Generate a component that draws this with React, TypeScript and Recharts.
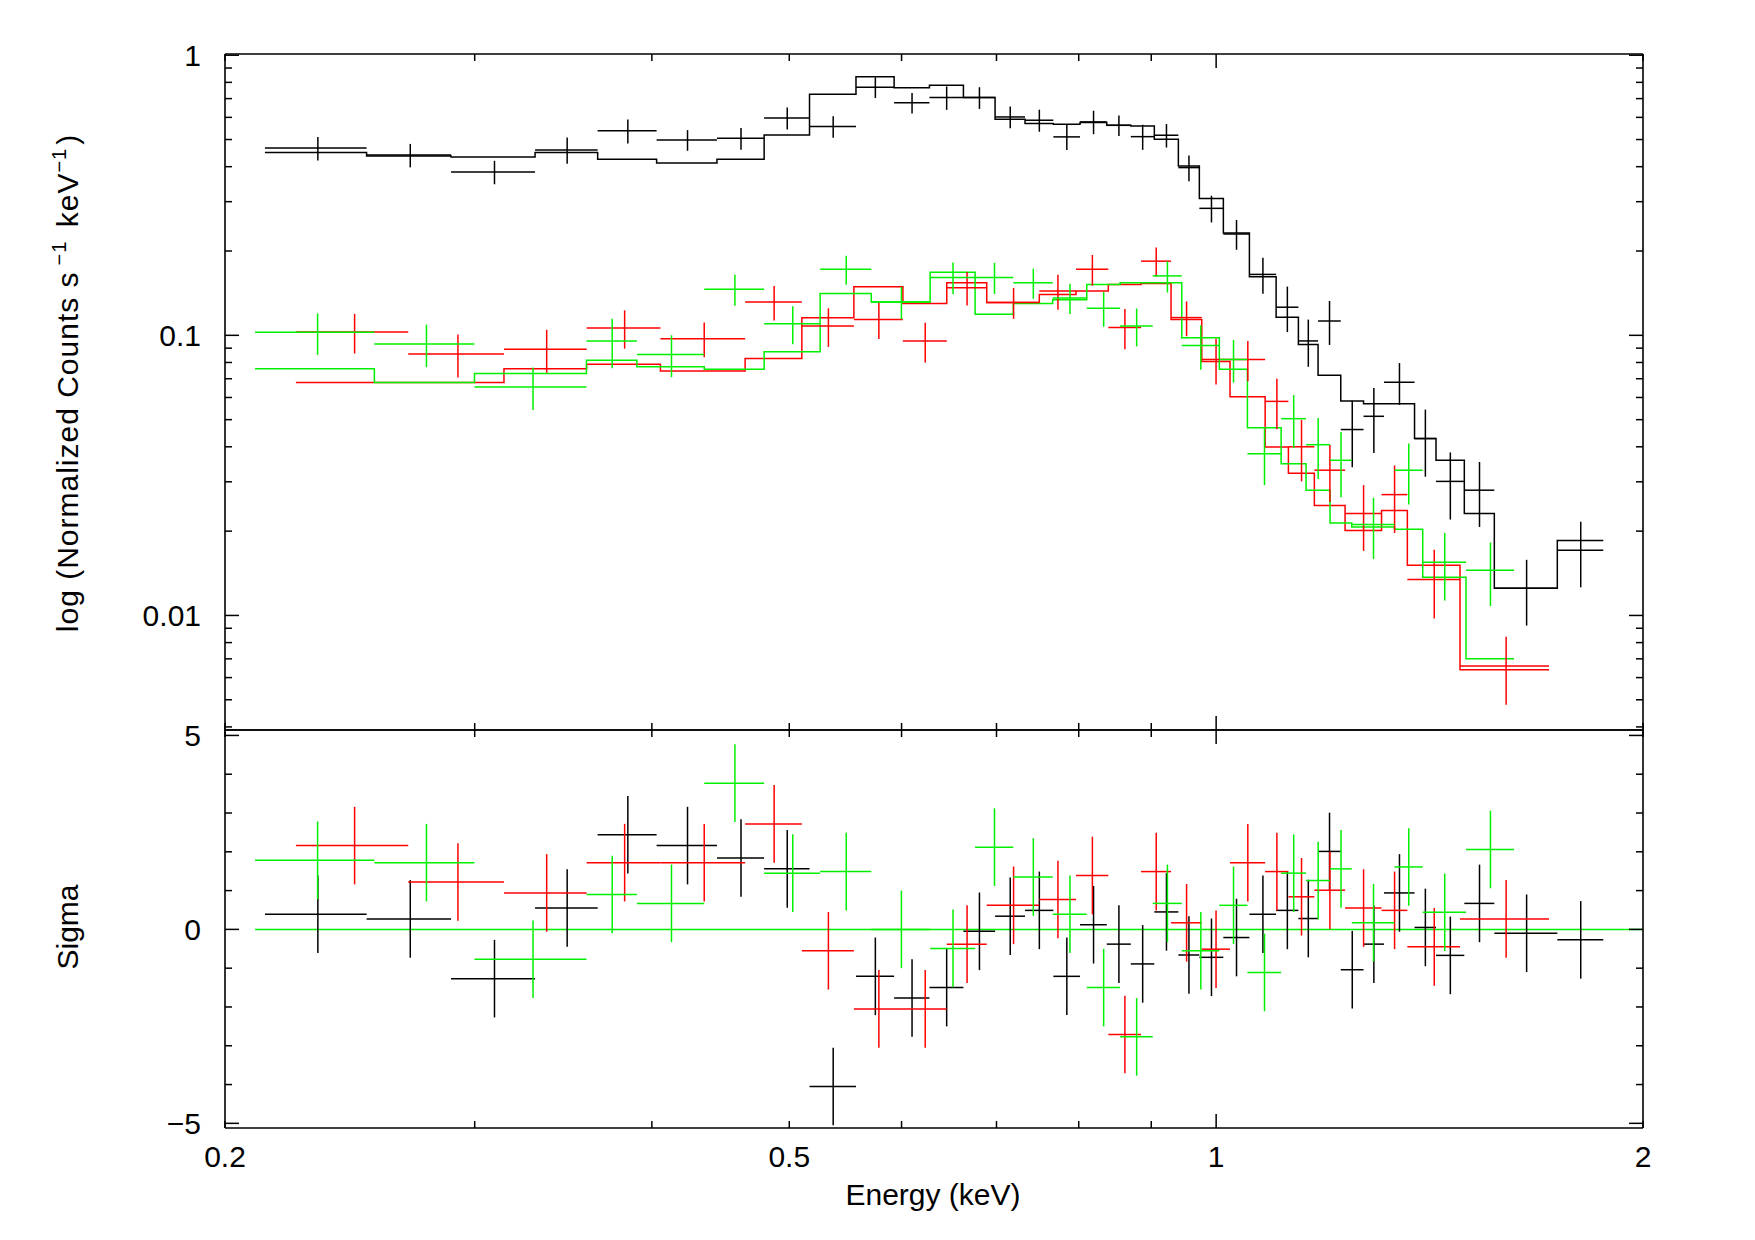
import React from 'react';
import { ComposedChart, ErrorBar, Line, Scatter, XAxis, YAxis } from 'recharts';

// bin edges (keV), rates (counts/s/keV), 1-sigma errors, folded model, delchi
const BLACK_EDGES = [
  0.2134, 0.2517, 0.2887, 0.3309, 0.3663, 0.4031, 0.4446, 0.48, 0.5167, 0.5572, 0.5928, 0.6278,
  0.6634, 0.6984, 0.7332, 0.7677, 0.8017, 0.8373, 0.8706, 0.9045, 0.9405, 0.9731, 1.0118, 1.0555,
  1.1023, 1.1429, 1.18, 1.2243, 1.2704, 1.3134, 1.3801, 1.4291, 1.4963, 1.571, 1.7402, 1.8751,
];
const BLACK_RATE = [
  0.466, 0.44, 0.383, 0.459, 0.537, 0.498, 0.505, 0.597, 0.556, 0.768, 0.676, 0.706, 0.706, 0.602,
  0.586, 0.511, 0.578, 0.562, 0.512, 0.518, 0.397, 0.284, 0.23, 0.165, 0.126, 0.0955, 0.1125,
  0.0461, 0.0514, 0.068, 0.0428, 0.0301, 0.028, 0.0125, 0.0171,
];
const BLACK_ERR = [
  0.0448, 0.0423, 0.0368, 0.0491, 0.053, 0.0422, 0.0448, 0.054, 0.0489, 0.065, 0.0573, 0.0679,
  0.0627, 0.0535, 0.053, 0.0525, 0.0556, 0.0476, 0.0526, 0.0498, 0.0418, 0.0311, 0.028, 0.0242,
  0.0233, 0.0183, 0.0201, 0.0123, 0.0134, 0.0116, 0.0115, 0.0081, 0.0073, 0.0033, 0.0045,
];
const BLACK_MODEL = [
  0.449, 0.437, 0.433, 0.449, 0.425, 0.412, 0.425, 0.519, 0.726, 0.837, 0.766, 0.782, 0.706, 0.591,
  0.57, 0.567, 0.575, 0.562, 0.559, 0.501, 0.402, 0.308, 0.232, 0.162, 0.116, 0.0928, 0.072,
  0.0583, 0.057, 0.057, 0.0428, 0.0358, 0.0231, 0.0125, 0.0185,
];
const BLACK_DELCHI = [
  0.39, 0.27, -1.27, 0.55, 2.44, 2.16, 1.84, 1.56, -4.05, -1.21, -1.77, -1.5, -0.05, 0.34, 0.49,
  -1.21, 0.12, -0.38, -0.89, 0.45, -0.66, -0.72, -0.21, 0.39, 0.49, 0.28, 2.01, -1.04, -0.38, 0.94,
  0.05, -0.67, 0.67, -0.1, -0.27,
];

const RED_EDGES = [
  0.2244, 0.2693, 0.3146, 0.3598, 0.4056, 0.4654, 0.5103, 0.5553, 0.6013, 0.6457, 0.689, 0.7504,
  0.7965, 0.8394, 0.8852, 0.9294, 0.9769, 1.0228, 1.0828, 1.1245, 1.1729, 1.2329, 1.3081, 1.3641,
  1.4859, 1.7169,
];
const RED_RATE = [
  0.1027, 0.0857, 0.0891, 0.1062, 0.0973, 0.1315, 0.1079, 0.114, 0.0955, 0.148, 0.131, 0.144,
  0.172, 0.1066, 0.184, 0.1157, 0.082, 0.082, 0.0581, 0.04, 0.033, 0.0231, 0.027, 0.01345, 0.0066,
];
const RED_ERR = [
  0.0166, 0.015, 0.0156, 0.0166, 0.0138, 0.0186, 0.017, 0.0169, 0.0155, 0.0203, 0.0165, 0.0207,
  0.0216, 0.0175, 0.0219, 0.0164, 0.0152, 0.0135, 0.0119, 0.0099, 0.0076, 0.0061, 0.0073, 0.0037,
  0.0018,
];
const RED_MODEL = [
  0.0679, 0.0679, 0.076, 0.0788, 0.0746, 0.0827, 0.1156, 0.149, 0.13, 0.154, 0.131, 0.14, 0.144,
  0.152, 0.153, 0.114, 0.0806, 0.0604, 0.0399, 0.0322, 0.0247, 0.0201, 0.0237, 0.0151, 0.0064,
];
const RED_DELCHI = [
  2.16, 1.22, 0.94, 1.72, 1.72, 2.72, -0.55, -2.05, -2.05, -0.38, 0.62, 0.77, 1.39, -2.71, 1.49,
  0.17, -0.51, 1.72, 1.49, 0.84, 1.01, 0.55, 0.49, -0.45, 0.27,
];

const GREEN_EDGES = [
  0.21, 0.2549, 0.2999, 0.3597, 0.3904, 0.4355, 0.48, 0.5257, 0.5712, 0.6285, 0.6761, 0.7194,
  0.7669, 0.8105, 0.8556, 0.9022, 0.9457, 1.0052, 1.0521, 1.1113, 1.1572, 1.2032, 1.2464, 1.3359,
  1.3986, 1.5004, 1.622,
];
const GREEN_RATE = [
  0.1025, 0.0931, 0.0654, 0.0955, 0.0855, 0.146, 0.11, 0.172, 0.1315, 0.161, 0.161, 0.154, 0.136,
  0.125, 0.108, 0.163, 0.092, 0.082, 0.0378, 0.0504, 0.0407, 0.0358, 0.0211, 0.033, 0.0155, 0.0145,
];
const GREEN_ERR = [
  0.0173, 0.0161, 0.0113, 0.0192, 0.0146, 0.0184, 0.017, 0.0205, 0.0173, 0.0209, 0.0205, 0.019,
  0.0168, 0.0177, 0.0167, 0.0208, 0.0167, 0.0142, 0.0086, 0.0108, 0.01, 0.0094, 0.0052, 0.0081,
  0.0042, 0.0037,
];
const GREEN_MODEL = [
  0.076, 0.0679, 0.073, 0.0814, 0.0773, 0.0756, 0.0874, 0.141, 0.1315, 0.168, 0.119, 0.13, 0.134,
  0.152, 0.154, 0.154, 0.098, 0.0756, 0.0468, 0.0348, 0.028, 0.0214, 0.0207, 0.0203, 0.0137, 0.007,
];
const GREEN_DELCHI = [
  1.78, 1.72, -0.77, 0.9, 0.67, 3.77, 1.45, 1.49, 0, -0.49, 2.12, 1.35, 0.39, -1.5, -2.77, 0.67,
  -0.55, 0.62, -1.11, 1.45, 1.26, 1.56, 0.17, 1.61, 0.44, 2.06,
];

const X_TICKS = [0.2, 0.3, 0.4, 0.5, 0.6, 0.7, 0.8, 0.9, 1, 2];
const X_MAJOR = [1];
const X_LABELS: Record<string, string> = { '0.2': '0.2', '0.5': '0.5', '1': '1', '2': '2' };
const RATE_TICKS = [
  0.004, 0.005, 0.006, 0.007, 0.008, 0.009, 0.01, 0.02, 0.03, 0.04, 0.05, 0.06, 0.07, 0.08, 0.09,
  0.1, 0.2, 0.3, 0.4, 0.5, 0.6, 0.7, 0.8, 0.9, 1,
];
const RATE_MAJOR = [0.01, 0.1, 1];
const RATE_LABELS: Record<string, string> = { '0.01': '0.01', '0.1': '0.1', '1': '1' };
const SIGMA_TICKS = [-5, -4, -3, -2, -1, 0, 1, 2, 3, 4, 5];
const SIGMA_MAJOR = [-5, 0, 5];
const SIGMA_LABELS: Record<string, string> = { '5': '5', '0': '0', '-5': '\u22125' };

const W = 1755;
const H = 1240;
const L = 225;
const R = 1643;
const TOP = 54;
const MID = 730;
const BOT = 1128;
const INK = '#000';
const FONT = '"Liberation Sans", Arial, sans-serif';
const LW = 1.5;

const key = (v: number) => String(Number(v.toPrecision(6)));

function crosses(edges: number[], vals: number[], errs: number[] | number) {
  return vals.map((v, i) => {
    const lo = edges[i];
    const hi = edges[i + 1];
    const e = (lo + hi) / 2;
    return { e, y: v, xErr: [e - lo, hi - e], yErr: Array.isArray(errs) ? errs[i] : errs };
  });
}

function steps(edges: number[], model: number[]) {
  const pts = model.map((m, i) => ({ e: edges[i], y: m }));
  pts.push({ e: edges[edges.length - 1], y: model[model.length - 1] });
  return pts;
}

type Side = 'left' | 'right' | 'top' | 'bottom';

function makeTick(side: Side, at: number, majors: number[], labels: Record<string, string> = {}) {
  return (p: any) => {
    const v = Number(p.payload?.value);
    const len = majors.some((m) => Math.abs(m - v) < 1e-9) ? 14 : 7;
    const text = labels[key(v)];
    if (side === 'left' || side === 'right') {
      const y = p.y;
      return (
        <g>
          <line x1={at} x2={side === 'left' ? at + len : at - len} y1={y} y2={y} stroke={INK} strokeWidth={LW} />
          {text && (
            <text x={at - 24} y={y} dy="0.36em" textAnchor="end" fontSize={30} fontFamily={FONT} fill={INK}>
              {text}
            </text>
          )}
        </g>
      );
    }
    const x = p.x;
    return (
      <g>
        <line x1={x} x2={x} y1={at} y2={side === 'bottom' ? at - len : at + len} stroke={INK} strokeWidth={LW} />
        {text && (
          <text x={x} y={1167} textAnchor="middle" fontSize={30} fontFamily={FONT} fill={INK}>
            {text}
          </text>
        )}
      </g>
    );
  };
}

const SERIES = [
  { color: '#000000', edges: BLACK_EDGES, rate: BLACK_RATE, err: BLACK_ERR, model: BLACK_MODEL, delchi: BLACK_DELCHI },
  { color: '#ff0000', edges: RED_EDGES, rate: RED_RATE, err: RED_ERR, model: RED_MODEL, delchi: RED_DELCHI },
  { color: '#00f000', edges: GREEN_EDGES, rate: GREEN_RATE, err: GREEN_ERR, model: GREEN_MODEL, delchi: GREEN_DELCHI },
];

const noShape = () => <g />;
const frame = { stroke: INK, strokeWidth: 1.6 };

function xAxes(bottomAt: number, topAt: number, bottomH: number, topH: number, labels?: Record<string, string>) {
  return [
    <XAxis
      key="xb"
      xAxisId="b"
      dataKey="e"
      type="number"
      scale="log"
      domain={[0.2, 2]}
      allowDataOverflow
      orientation="bottom"
      height={bottomH}
      ticks={X_TICKS}
      interval={0}
      tickSize={0}
      tickLine={false}
      axisLine={frame}
      tick={makeTick('bottom', bottomAt, X_MAJOR, labels)}
    />,
    <XAxis
      key="xt"
      xAxisId="t"
      dataKey="e"
      type="number"
      scale="log"
      domain={[0.2, 2]}
      allowDataOverflow
      orientation="top"
      height={topH}
      ticks={X_TICKS}
      interval={0}
      tickSize={0}
      tickLine={false}
      axisLine={frame}
      tick={makeTick('top', topAt, X_MAJOR)}
    />,
  ];
}

function yAxes(domain: [number, number], scale: 'log' | 'linear', ticks: number[], majors: number[], labels: Record<string, string>) {
  return [
    <YAxis
      key="yl"
      yAxisId="l"
      dataKey="y"
      type="number"
      scale={scale}
      domain={domain}
      allowDataOverflow
      width={L}
      ticks={ticks}
      interval={0}
      tickSize={0}
      tickLine={false}
      axisLine={frame}
      tick={makeTick('left', L, majors, labels)}
    />,
    <YAxis
      key="yr"
      yAxisId="r"
      dataKey="y"
      orientation="right"
      type="number"
      scale={scale}
      domain={domain}
      allowDataOverflow
      width={W - R}
      ticks={ticks}
      interval={0}
      tickSize={0}
      tickLine={false}
      axisLine={frame}
      tick={makeTick('right', R, majors)}
    />,
  ];
}

export default function App() {
  const zero = [
    { e: GREEN_EDGES[0], y: 0 },
    { e: 2, y: 0 },
  ];
  return (
    <div style={{ position: 'absolute', left: 0, top: 0, width: W, height: H, background: '#fff' }}>
      <div style={{ position: 'absolute', left: 0, top: 0 }}>
        <ComposedChart width={W} height={H} margin={{ top: 0, right: 0, bottom: 0, left: 0 }}>
          {xAxes(MID, TOP, H - MID, TOP)}
          {yAxes([0.0039, 1.01], 'log', RATE_TICKS, RATE_MAJOR, RATE_LABELS)}
          {SERIES.map((s, i) => (
            <Line
              key={`m${i}`}
              xAxisId="b"
              yAxisId="l"
              data={steps(s.edges, s.model)}
              dataKey="y"
              type="stepAfter"
              stroke={s.color}
              strokeWidth={LW}
              dot={false}
              activeDot={false}
              isAnimationActive={false}
            />
          ))}
          {SERIES.map((s, i) => (
            <Scatter
              key={`d${i}`}
              xAxisId="b"
              yAxisId="l"
              data={crosses(s.edges, s.rate, s.err)}
              dataKey="y"
              shape={noShape}
              isAnimationActive={false}
            >
              <ErrorBar dataKey="xErr" direction="x" width={0} stroke={s.color} strokeWidth={LW} isAnimationActive={false} />
              <ErrorBar dataKey="yErr" direction="y" width={0} stroke={s.color} strokeWidth={LW} isAnimationActive={false} />
            </Scatter>
          ))}
        </ComposedChart>
      </div>
      <div style={{ position: 'absolute', left: 0, top: 0 }}>
        <ComposedChart width={W} height={H} margin={{ top: 0, right: 0, bottom: 0, left: 0 }}>
          {xAxes(BOT, MID, H - BOT, MID, X_LABELS)}
          {yAxes([-5.12, 5.14], 'linear', SIGMA_TICKS, SIGMA_MAJOR, SIGMA_LABELS)}
          <Line
            xAxisId="b"
            yAxisId="l"
            data={zero}
            dataKey="y"
            stroke="#00f000"
            strokeWidth={LW}
            dot={false}
            activeDot={false}
            isAnimationActive={false}
          />
          {SERIES.map((s, i) => (
            <Scatter
              key={`r${i}`}
              xAxisId="b"
              yAxisId="l"
              data={crosses(s.edges, s.delchi, 1)}
              dataKey="y"
              shape={noShape}
              isAnimationActive={false}
            >
              <ErrorBar dataKey="xErr" direction="x" width={0} stroke={s.color} strokeWidth={LW} isAnimationActive={false} />
              <ErrorBar dataKey="yErr" direction="y" width={0} stroke={s.color} strokeWidth={LW} isAnimationActive={false} />
            </Scatter>
          ))}
        </ComposedChart>
      </div>
      <svg width={W} height={H} style={{ position: 'absolute', left: 0, top: 0, pointerEvents: 'none' }}>
        <g fontFamily={FONT} fontSize={30} fill={INK}>
          <text transform="translate(67,383) rotate(-90)" textAnchor="middle" dy="0.36em" letterSpacing={1}>
            log (Normalized Counts s
            <tspan dx={6} dy={-12} fontSize={20}>{'\u22121'}</tspan>
            <tspan dx={4} dy={12}>{'  keV'}</tspan>
            <tspan dy={-12} fontSize={20}>{'\u22121'}</tspan>
            <tspan dx={3} dy={12}>)</tspan>
          </text>
          <text transform="translate(67,927) rotate(-90)" textAnchor="middle" dy="0.36em">
            Sigma
          </text>
          <text x={933} y={1194} textAnchor="middle" dy="0.36em">
            Energy (keV)
          </text>
        </g>
      </svg>
    </div>
  );
}
